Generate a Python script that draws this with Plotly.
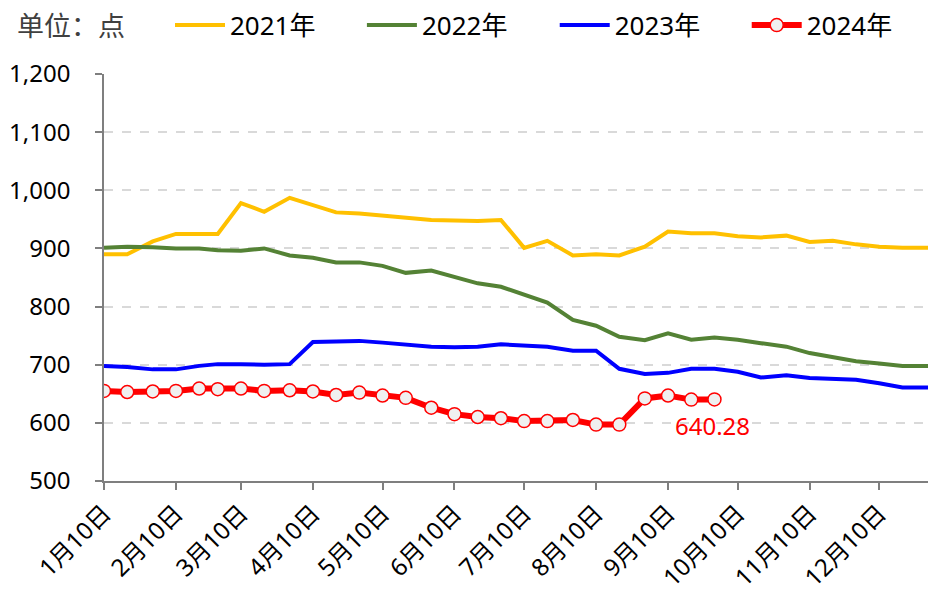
import plotly.graph_objects as go

# Dekad observation dates (month-day), plotted on a shared reference year
dates = ["01-10", "01-20", "01-31", "02-10", "02-20", "02-28", "03-10", "03-20", "03-31",
         "04-10", "04-20", "04-30", "05-10", "05-20", "05-31", "06-10", "06-20", "06-30",
         "07-10", "07-20", "07-31", "08-10", "08-20", "08-31", "09-10", "09-20", "09-30",
         "10-10", "10-20", "10-31", "11-10", "11-20", "11-30", "12-10", "12-20", "12-31"]

v2021 = [890, 890, 912, 925, 925, 925, 978, 963, 987, 974, 962, 960,
         957, 953, 949, 948, 947, 949, 901, 913, 888, 890, 888, 903,
         929, 926, 926, 921, 919, 922, 911, 913, 907, 903, 901, 901]
v2022 = [901, 903, 902, 900, 900, 897, 896, 900, 888, 884, 876, 876,
         870, 858, 862, 851, 840, 834, 821, 807, 777, 767, 748, 742,
         754, 743, 747, 743, 737, 731, 720, 713, 706, 702, 698, 698]
v2023 = [698, 696, 692, 692, 698, 701, 701, 700, 701, 739, 740, 741,
         738, 734, 731, 730, 731, 735, 733, 731, 724, 724, 693, 684,
         686, 693, 693, 688, 678, 682, 677, 675, 674, 668, 661, 661]
v2024 = [655, 653, 654, 655, 659, 658, 659, 655, 656, 654, 648, 652,
         647, 643, 626, 615, 610, 608, 603, 603, 605, 597, 597, 642,
         647, 640, 640.28]

tick_dates = ["01-10", "02-10", "03-10", "04-10", "05-10", "06-10",
              "07-10", "08-10", "09-10", "10-10", "11-10", "12-10"]
tick_labels = ["1月10日", "2月10日", "3月10日", "4月10日", "5月10日", "6月10日",
               "7月10日", "8月10日", "9月10日", "10月10日", "11月10日", "12月10日"]
y_ticks = [500, 600, 700, 800, 900, 1000, 1100, 1200]

base = "2021-"
x_all = [base + d for d in dates]

FONT = "Noto Sans, Noto Sans CJK SC, sans-serif"

fig = go.Figure()
fig.add_trace(go.Scatter(x=x_all, y=v2021, mode="lines", name="2021年", legend="legend",
                         line=dict(color="#FFC000", width=4)))
fig.add_trace(go.Scatter(x=x_all, y=v2022, mode="lines", name="2022年", legend="legend2",
                         line=dict(color="#548235", width=4)))
fig.add_trace(go.Scatter(x=x_all, y=v2023, mode="lines", name="2023年", legend="legend3",
                         line=dict(color="#0000FF", width=4)))
fig.add_trace(go.Scatter(x=x_all[:len(v2024)], y=v2024, mode="lines+markers", name="2024年",
                         legend="legend4",
                         line=dict(color="#FF0000", width=6),
                         marker=dict(symbol="circle", size=13, color="#F0F0F0",
                                     line=dict(color="#FF0000", width=1.5))))

fig.add_annotation(x=x_all[len(v2024) - 1], y=v2024[-1], text=f"{v2024[-1]:.2f}",
                   showarrow=False, yshift=-26, xshift=-2,
                   font=dict(family=FONT, size=24, color="#FF0000"))

fig.add_annotation(xref="paper", yref="paper", x=-0.108, y=1.12, xanchor="left",
                   yanchor="middle", text="单位：点", showarrow=False,
                   font=dict(family=FONT, size=27, color="#404040"))

legend_common = dict(orientation="h", y=1.12, xanchor="left", yanchor="middle",
                     itemwidth=50,
                     font=dict(family=FONT, size=26, color="#000000"),
                     bgcolor="rgba(0,0,0,0)")

fig.update_layout(
    width=928, height=599,
    margin=dict(l=104, r=0, t=74, b=118, autoexpand=False),
    paper_bgcolor="white", plot_bgcolor="white",
    font=dict(family=FONT, size=24, color="#000000"),
    showlegend=True,
    legend=dict(x=0.0801, **legend_common),
    legend2=dict(x=0.313, **legend_common),
    legend3=dict(x=0.547, **legend_common),
    legend4=dict(x=0.780, **legend_common),
)

fig.update_xaxes(
    type="date", automargin=False,
    range=[base + dates[0], base + dates[-1]],
    tickvals=[base + d for d in tick_dates], ticktext=tick_labels,
    tickangle=-45, ticks="outside", ticklen=7, tickcolor="#7F7F7F", tickwidth=1.5,
    showline=True, linecolor="#7F7F7F", linewidth=1.5,
    showgrid=False, zeroline=False,
    tickfont=dict(family=FONT, size=24, color="#000000"),
)
fig.update_yaxes(
    automargin=False,
    range=[500, 1200], tickvals=y_ticks, tickformat=",d",
    ticks="outside", ticklen=7, tickcolor="#7F7F7F", tickwidth=1.5,
    showline=True, linecolor="#7F7F7F", linewidth=1.5,
    showgrid=True, gridcolor="#D9D9D9", gridwidth=1.5, griddash="dash",
    zeroline=False, ticklabelstandoff=20,
    tickfont=dict(family=FONT, size=24, color="#000000"),
)

fig.write_html("out.html", config={"displayModeBar": False},
               post_script="document.body.style.margin='0';document.body.style.overflow='hidden';")
